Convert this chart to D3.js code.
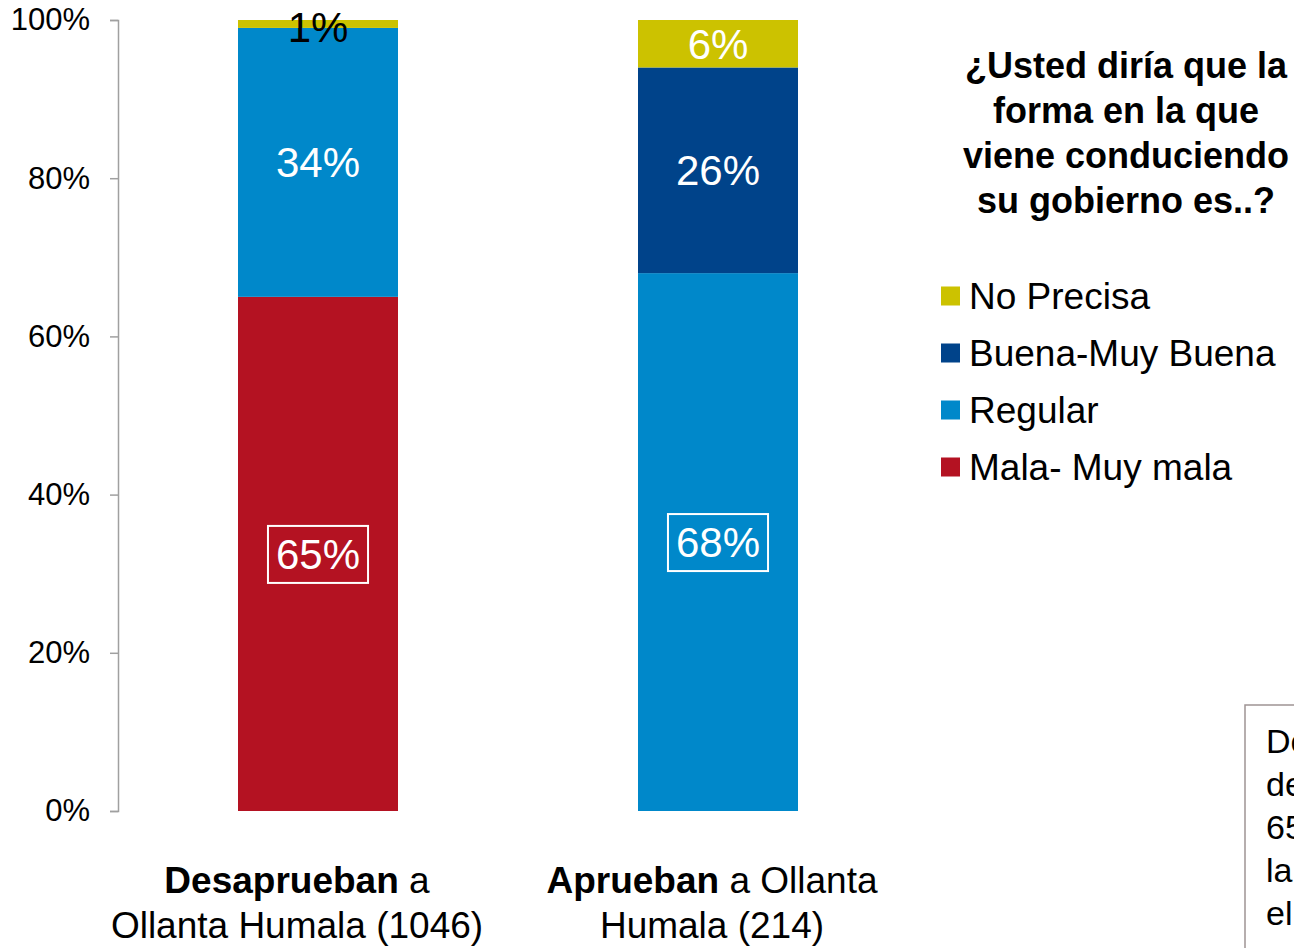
<!doctype html>
<html lang="es">
<head>
	<meta charset="UTF-8">
	<title>Gobierno</title>
	<script src="https://d3js.org/d3.v7.min.js"></script>
	<style>
		body { margin:0; background:#fff; }
		text { font-family: Arial, "Liberation Sans", sans-serif; }
	</style>
</head>
<body>
<div id="myDiv"></div>
<script>
// data
var groups = ["Desaprueban", "Aprueban"];
var groupBold = ["Desaprueban", "Aprueban"];
var groupLine1 = [" a", " a Ollanta"];
var groupLine2 = ["Ollanta Humala (1046)", "Humala (214)"];
var seriesNames = ["Mala- Muy mala", "Regular", "Buena-Muy Buena", "No Precisa"];
var mala = [65, 0];
var regular = [34, 68];
var buena = [0, 26];
var noPrecisa = [1, 6];
var yTicks = [0, 20, 40, 60, 80, 100];
var titleLines = ["¿Usted diría que la", "forma en la que", "viene conduciendo", "su gobierno es..?"];
var noteLines = ["De", "de", "65", "la", "el"];

var colors = ["#B41222", "#0088CA", "#00438A", "#CCC200"];

var width = 1294, height = 948;

var svg = d3.select("#myDiv").append("svg")
	.attr("width", width)
	.attr("height", height);

// table for stack
var table = groups.map(function(g, i){
	return { group: g, "Mala- Muy mala": mala[i], "Regular": regular[i], "Buena-Muy Buena": buena[i], "No Precisa": noPrecisa[i] };
});
var stacked = d3.stack().keys(seriesNames)(table);

var yScale = d3.scaleLinear().domain([0, 100]).range([811, 20]);
var xScale = d3.scaleBand().domain(groups).range([118, 918]).paddingInner(0.6).paddingOuter(0.3);

// bars
var layer = svg.selectAll("g.layer")
	.data(stacked)
	.enter().append("g")
	.attr("class", "layer")
	.attr("fill", function(d, i){ return colors[i]; });

layer.selectAll("rect")
	.data(function(d){ return d; })
	.enter().append("rect")
	.attr("x", function(d){ return xScale(d.data.group); })
	.attr("y", function(d){ return yScale(d[1]); })
	.attr("width", xScale.bandwidth())
	.attr("height", function(d){ return yScale(d[0]) - yScale(d[1]); });

// value labels
stacked.forEach(function(s, si){
	s.forEach(function(d){
		var v = d[1] - d[0];
		if (v <= 0) return;
		var cx = xScale(d.data.group) + xScale.bandwidth() / 2;
		var cy = (yScale(d[0]) + yScale(d[1])) / 2;
		if (v < 3) cy += 3;
		var t = svg.append("text")
			.attr("x", cx)
			.attr("y", cy + 15)
			.attr("text-anchor", "middle")
			.attr("font-size", "42px")
			.attr("fill", v < 3 ? "#000" : "#fff")
			.text(v + "%");
		if (si == 0 || (si == 1 && d.data.group == "Aprueban")) {
			var bb = t.node().getBBox();
			svg.append("rect")
				.attr("x", bb.x - 8)
				.attr("y", cy - 28)
				.attr("width", bb.width + 16)
				.attr("height", 57)
				.attr("fill", "none")
				.attr("stroke", "#fff")
				.attr("stroke-width", 2);
		}
	});
});

// y axis
var yAxis = d3.axisLeft(yScale)
	.tickValues(yTicks)
	.tickSize(8)
	.tickPadding(20)
	.tickFormat(function(d){ return d + "%"; });

var gy = svg.append("g")
	.attr("transform", "translate(118,0)")
	.call(yAxis);
gy.select(".domain").attr("stroke", "#A0A0A0").attr("stroke-width", 1.5);
gy.selectAll(".tick line").attr("stroke", "#A0A0A0").attr("stroke-width", 1.5);
gy.selectAll(".tick text")
	.attr("font-size", "31px")
	.attr("fill", "#000")
	.attr("font-family", "Arial, 'Liberation Sans', sans-serif");

// category labels
groups.forEach(function(g, i){
	var cx = xScale(g) + xScale.bandwidth() / 2 - (i == 0 ? 21 : 6);
	var t1 = svg.append("text")
		.attr("x", cx).attr("y", 893)
		.attr("text-anchor", "middle")
		.attr("font-size", "37px")
		.attr("fill", "#000");
	t1.append("tspan").attr("font-weight", "bold").text(groupBold[i]);
	t1.append("tspan").text(groupLine1[i]);
	svg.append("text")
		.attr("x", cx).attr("y", 938)
		.attr("text-anchor", "middle")
		.attr("font-size", "37px")
		.attr("fill", "#000")
		.text(groupLine2[i]);
});

// legend title
svg.selectAll("text.title")
	.data(titleLines)
	.enter().append("text")
	.attr("class", "title")
	.attr("x", 1126)
	.attr("y", function(d, i){ return 78 + i * 45; })
	.attr("text-anchor", "middle")
	.attr("font-size", "36px")
	.attr("font-weight", "bold")
	.attr("fill", "#000")
	.text(function(d){ return d; });

// legend items (top to bottom)
var legendOrder = [3, 2, 1, 0];
var legend = svg.selectAll("g.legend")
	.data(legendOrder)
	.enter().append("g")
	.attr("class", "legend")
	.attr("transform", function(d, i){ return "translate(941," + (296 + i * 57) + ")"; });
legend.append("rect")
	.attr("x", 0).attr("y", -9.5)
	.attr("width", 19).attr("height", 19)
	.attr("fill", function(d){ return colors[d]; });
legend.append("text")
	.attr("x", 28).attr("y", 13)
	.attr("font-size", "37px")
	.attr("fill", "#000")
	.text(function(d){ return seriesNames[d]; });

// note box (cut off at the page edge, as in the source image)
svg.append("rect")
	.attr("x", 1245).attr("y", 705)
	.attr("width", 120).attr("height", 300)
	.attr("fill", "#fff")
	.attr("stroke", "#9E9494")
	.attr("stroke-width", 1.5);
svg.selectAll("text.note")
	.data(noteLines)
	.enter().append("text")
	.attr("class", "note")
	.attr("x", 1266)
	.attr("y", function(d, i){ return 753 + i * 43; })
	.attr("font-size", "34px")
	.attr("fill", "#000")
	.text(function(d){ return d; });
</script>
</body>
</html>
